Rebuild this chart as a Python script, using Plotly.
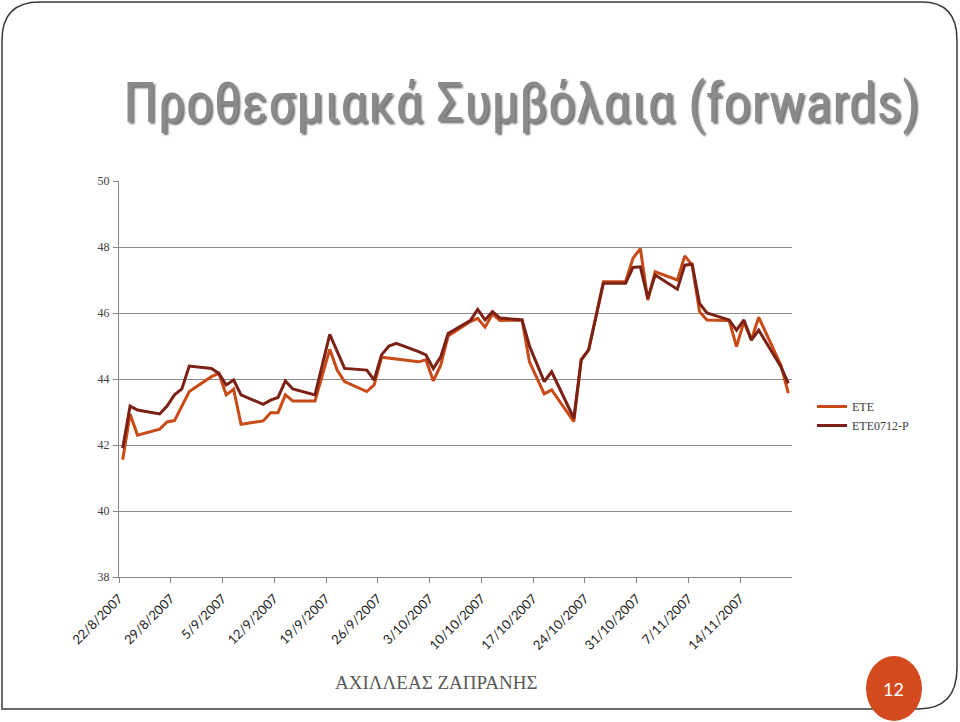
import pandas as pd
import plotly.graph_objects as go

# ---------------- data ----------------
ete_dates = [
    "2007-08-22", "2007-08-23", "2007-08-24", "2007-08-27", "2007-08-28", "2007-08-29",
    "2007-08-31", "2007-09-03", "2007-09-04", "2007-09-05", "2007-09-06", "2007-09-07",
    "2007-09-10", "2007-09-11", "2007-09-12", "2007-09-13", "2007-09-14", "2007-09-17",
    "2007-09-19", "2007-09-20", "2007-09-21", "2007-09-24", "2007-09-25", "2007-09-26",
    "2007-10-01", "2007-10-02", "2007-10-03", "2007-10-04", "2007-10-05", "2007-10-08",
    "2007-10-09", "2007-10-10", "2007-10-11", "2007-10-12", "2007-10-15", "2007-10-16",
    "2007-10-18", "2007-10-19", "2007-10-22", "2007-10-23", "2007-10-24", "2007-10-25",
    "2007-10-26", "2007-10-29", "2007-10-30", "2007-10-31", "2007-11-01", "2007-11-02",
    "2007-11-05", "2007-11-06", "2007-11-07", "2007-11-08", "2007-11-09", "2007-11-12",
    "2007-11-13", "2007-11-14", "2007-11-15", "2007-11-16", "2007-11-19", "2007-11-20",
]
ete_values = [
    41.55, 42.94, 42.30, 42.48, 42.70, 42.74,
    43.62, 44.07, 44.17, 43.52, 43.69, 42.63,
    42.73, 42.98, 42.98, 43.52, 43.33, 43.33,
    44.90, 44.27, 43.92, 43.62, 43.82, 44.66,
    44.52, 44.58, 43.94, 44.42, 45.30, 45.74,
    45.84, 45.57, 45.97, 45.77, 45.79, 44.52,
    43.55, 43.67, 42.71, 44.58, 44.88, 45.94,
    46.95, 46.95, 47.66, 47.95, 46.39, 47.25,
    47.00, 47.73, 47.45, 46.04, 45.79, 45.77,
    44.98, 45.74, 45.18, 45.87, 44.42, 43.57,
]

fwd_dates = [
    "2007-08-22", "2007-08-23", "2007-08-24", "2007-08-27", "2007-08-28", "2007-08-29",
    "2007-08-30", "2007-08-31", "2007-09-03", "2007-09-04", "2007-09-05", "2007-09-06",
    "2007-09-07", "2007-09-10", "2007-09-11", "2007-09-12", "2007-09-13", "2007-09-14",
    "2007-09-17", "2007-09-19", "2007-09-21", "2007-09-24", "2007-09-25", "2007-09-26",
    "2007-09-27", "2007-09-28", "2007-10-01", "2007-10-02", "2007-10-03", "2007-10-04",
    "2007-10-05", "2007-10-08", "2007-10-09", "2007-10-10", "2007-10-11", "2007-10-12",
    "2007-10-15", "2007-10-16", "2007-10-18", "2007-10-19", "2007-10-22", "2007-10-23",
    "2007-10-24", "2007-10-25", "2007-10-26", "2007-10-29", "2007-10-30", "2007-10-31",
    "2007-11-01", "2007-11-02", "2007-11-05", "2007-11-06", "2007-11-07", "2007-11-08",
    "2007-11-09", "2007-11-12", "2007-11-13", "2007-11-14", "2007-11-15", "2007-11-16",
    "2007-11-19", "2007-11-20",
]
fwd_values = [
    41.90, 43.18, 43.06, 42.94, 43.18, 43.52,
    43.70, 44.39, 44.32, 44.17, 43.82, 43.97,
    43.52, 43.23, 43.36, 43.44, 43.94, 43.70,
    43.52, 45.35, 44.32, 44.27, 43.97, 44.73,
    45.00, 45.08, 44.83, 44.73, 44.32, 44.67,
    45.38, 45.77, 46.11, 45.79, 46.04, 45.85,
    45.79, 45.00, 43.92, 44.22, 42.81, 44.58,
    44.88, 45.94, 46.90, 46.90, 47.38, 47.40,
    46.45, 47.15, 46.72, 47.45, 47.48, 46.29,
    46.00, 45.79, 45.48, 45.79, 45.18, 45.48,
    44.37, 43.87,
]

series_names = ["ETE", "ETE0712-P"]

tick_dates = [
    "2007-08-22", "2007-08-29", "2007-09-05", "2007-09-12", "2007-09-19",
    "2007-09-26", "2007-10-03", "2007-10-10", "2007-10-17", "2007-10-24",
    "2007-10-31", "2007-11-07", "2007-11-14",
]
tick_labels = [
    "22/8/2007", "29/8/2007", "5/9/2007", "12/9/2007", "19/9/2007",
    "26/9/2007", "3/10/2007", "10/10/2007", "17/10/2007", "24/10/2007",
    "31/10/2007", "7/11/2007", "14/11/2007",
]
y_ticks = [38, 40, 42, 44, 46, 48, 50]

title_text = "Προθεσμιακά Συμβόλαια (forwards)"
footer_text = "ΑΧΙΛΛΕΑΣ ΖΑΠΡΑΝΗΣ"
page_number = "12"

# ---------------- layout geometry ----------------
W, H = 960, 722
L, R, T, B = 119, 792, 181, 577   # plot area in pixels


def px(x):
    return (x - L) / (R - L)


def py(y):
    return (B - y) / (B - T)


half_day = pd.Timedelta(hours=12)
tickvals = list(pd.to_datetime(tick_dates) - half_day)
x_range = [pd.Timestamp("2007-08-22") - half_day, pd.Timestamp("2007-11-21") - half_day]

fig = go.Figure()
fig.add_trace(go.Scatter(
    x=pd.to_datetime(ete_dates), y=ete_values, mode="lines", name=series_names[0],
    line=dict(color="#C84A16", width=3),
))
fig.add_trace(go.Scatter(
    x=pd.to_datetime(fwd_dates), y=fwd_values, mode="lines", name=series_names[1],
    line=dict(color="#7B2116", width=3),
))

fig.update_xaxes(
    type="date", range=x_range, tickvals=tickvals, ticktext=tick_labels,
    tickangle=-45, showgrid=False, showline=True, linecolor="#868686", linewidth=1,
    ticks="outside", ticklen=5, tickcolor="#868686", tickwidth=1,
    ticklabelstandoff=3,
    tickfont=dict(family="Lato, Open Sans, sans-serif", size=13, color="#222222"),
    zeroline=False,
)
fig.update_yaxes(
    range=[38, 50], tickvals=y_ticks, showgrid=True, gridcolor="#8c8c8c", gridwidth=1.3,
    showline=True, linecolor="#868686", linewidth=1, ticks="outside", ticklen=5,
    tickcolor="#868686", zeroline=False, ticklabelstandoff=1,
    tickfont=dict(family="Liberation Serif, serif", size=12, color="#404040"),
)

shapes = [
    # slide frame
    dict(type="path", xref="paper", yref="paper",
         path=(f"M {px(2)},{py(709)} L {px(2)},{py(40)} "
               f"Q {px(2)},{py(2)} {px(40)},{py(2)} "
               f"L {px(922)},{py(2)} Q {px(957)},{py(2)} {px(957)},{py(40)} "
               f"L {px(957)},{py(668)} Q {px(957)},{py(709)} {px(918)},{py(709)} Z"),
         line=dict(color="#3a3a3a", width=1.5), fillcolor="rgba(0,0,0,0)", layer="below"),
    # page-number badge
    dict(type="circle", xref="paper", yref="paper",
         x0=px(866), x1=px(922), y0=py(656), y1=py(721),
         line=dict(color="#D24A1E", width=0), fillcolor="#D24A1E", layer="above"),
]

annotations = [
    dict(text=title_text, xref="paper", yref="paper", x=px(121), y=py(103),
         xanchor="left", yanchor="middle", showarrow=False,
         font=dict(family="Liberation Sans Narrow, Roboto Condensed, Roboto, sans-serif",
                   size=56, color="#8a8a8a",
                   shadow="2px 2px 2px rgba(0,0,0,0.55)")),
    dict(text=footer_text, xref="paper", yref="paper", x=px(436), y=py(682),
         xanchor="center", yanchor="middle", showarrow=False,
         font=dict(family="Liberation Serif, serif", size=19, color="#595959")),
    dict(text=page_number, xref="paper", yref="paper", x=px(894), y=py(689),
         xanchor="center", yanchor="middle", showarrow=False,
         font=dict(family="Lato, sans-serif", size=18, color="#ffffff")),
]

fig.update_layout(
    width=W, height=H,
    margin=dict(l=L, r=W - R, t=T, b=H - B, pad=0),
    paper_bgcolor="white", plot_bgcolor="white",
    showlegend=True,
    legend=dict(x=px(812), y=py(416), xanchor="left", yanchor="middle",
                font=dict(family="Liberation Serif, serif", size=12, color="#404040"),
                bgcolor="rgba(0,0,0,0)", tracegroupgap=4, itemwidth=30),
    shapes=shapes, annotations=annotations,
)

fig.write_html("out.html")
